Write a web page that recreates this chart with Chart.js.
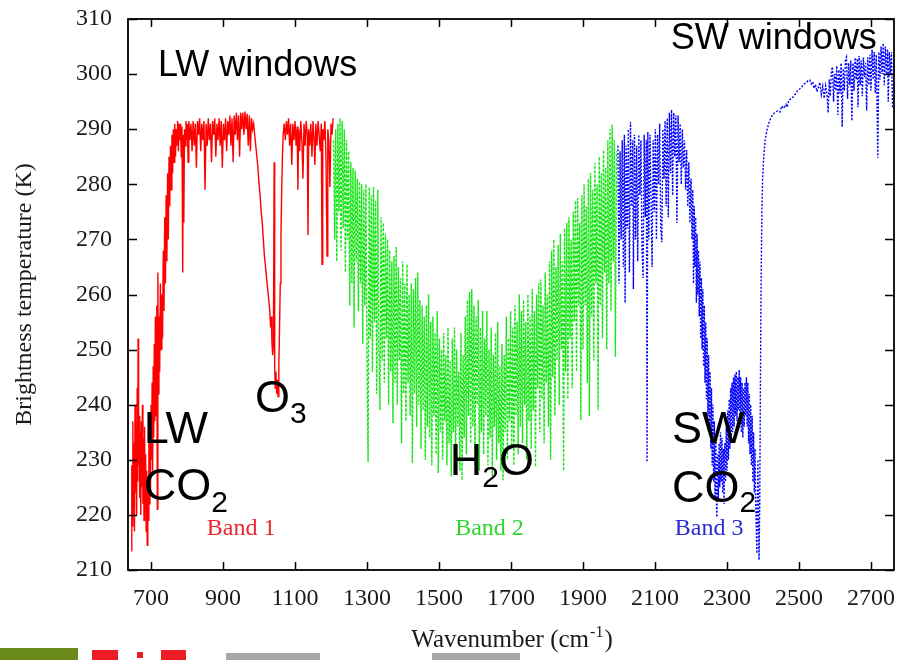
<!DOCTYPE html>
<html><head><meta charset="utf-8">
<script src="https://cdn.jsdelivr.net/npm/chart.js@4.4.0/dist/chart.umd.min.js"></script>
<style>html,body{margin:0;padding:0;background:#fff;}canvas{display:block;}</style>
</head><body>
<canvas id="c" width="902" height="660"></canvas>
<script>
// ---- tick values ----
const xTicks = [700, 900, 1100, 1300, 1500, 1700, 1900, 2100, 2300, 2500, 2700];
const yTicks = [210, 220, 230, 240, 250, 260, 270, 280, 290, 300, 310];

// ---- Band 1 (red): [wavenumber, brightness temperature K] ----
const band1 = [
[645,213.5],[646.5,229],[648,218],[649.5,237],[651,221],[652.5,233],[654,217],[655.5,240],[657,224],[658.5,236],
[660,220],[661.5,243],[663,226],[664,252],[665.5,229],[667,238],[668.5,223],[670,235],[671.5,220],[673,237],
[674.5,225],[676,240],[677.5,222],[679,234],[680.5,219],[682,236],[683.5,221],[685,231],[686.5,217],[688,228],
[689.5,214.5],[691,227],[692.5,219],[694,233],[695.5,222],[697,236],[698.5,224],[700,240],[701.5,230],[703,244],
[704.5,228],[706,247],[707.5,234],[709,251],[710.5,237],[712,256],[714,238],[716,258],[717.5,221],[719,264],
[720.5,242],[722,256],[724,246],[726,262],[728,250],[730,260],[732,252],[734,268],[736,257],[738,274],
[740,262],[742,278],[744,266],[746,282],[748,270],[750,285],[752,276],[754,287],[756,279],[758,289],
[760,282],[762,290],[764,284],[766,291],[768,285],[770,290],[772,287],[774,291.5],[776,286],[778,291],
[780,288],[782,291],[784,285],[786,290.5],[788,264],[789.5,289],[791,273],[793,290],[795,287],[797,291.5],
[799,288],[801,291],[803,284],[805,291.5],[808,288],[811,291],[814,286],[817,291.5],[820,287],[823,291],
[826,283],[829,291.5],[832,289],[835,292],[838,286],[841,291],[844,288],[847,291.5],[850,279],[853,291],
[856,287],[859,292],[862,288],[865,291],[868,284],[871,291.5],[874,289],[877,292],[880,285],[883,291],
[886,288],[889,292],[892,287],[895,291.5],[898,283],[901,291],[904,288],[907,292],[910,286],[913,291.5],
[916,289],[919,292.5],[922,287],[925,292],[928,284],[931,292.5],[934,289],[937,293],[940,288],[943,292.5],
[946,285],[949,293],[952,290],[955,293],[958,289],[961,293.2],[964,290],[967,292.8],[970,287],[973,292.5],
[976,286],[979,292],[982,290],[985,291],[988,289],[991,287],[994,285],[997,283],[1000,280],[1003,278],
[1006,275],[1009,273],[1012,270],[1015,267],[1018,265],[1021,263],[1024,261],[1027,259],[1030,257],[1032,254],
[1034,256],[1036,251],[1038,249],[1040,251],[1042,284],[1043.5,247],[1045,243],[1047,246],[1049,242],[1051,244.5],
[1053,241.5],[1055,247],[1057,254],[1059,262],[1061,271],[1063,279],[1065,285],[1067,289],[1070,291],[1073,288],
[1076,291.5],[1079,289],[1082,292],[1085,287],[1088,291],[1091,283.5],[1094,291],[1097,288],[1100,291.5],[1103,287],
[1106,290.5],[1108,279],[1110,290],[1113,286],[1116,291.5],[1119,288],[1122,281],[1125,291],[1128,287],[1131,291.5],
[1134,289],[1136,270.8],[1138,290],[1141,287],[1144,291],[1147,285],[1150,291.5],[1153,288],[1155,283.5],[1158,291],
[1161,287],[1164,291.5],[1167,289],[1170,286],[1173,291],[1175,265.5],[1177,290],[1180,288],[1183,291.5],[1186,285],
[1189,267],[1191,290],[1194,288],[1197,279.5],[1200,291],[1203,289],[1206,292]
];

// ---- Band 2 (green) ----
const band2 = [
[1207,288],[1210,270],[1213,290],[1216,266],[1219,291],[1222,275],[1225,292],[1228,268],[1231,291.5],[1234,272],
[1237,290],[1240,264],[1243,288],[1246,270],[1249,286],[1252,258],[1255,284],[1258,262],[1261,283],[1264,254],
[1267,282.5],[1270,266],[1273,281],[1276,257],[1279,280.5],[1282,262],[1285,280],[1288,251],[1291,279],[1294,258],
[1297,280],[1300,248],[1303,229.6],[1306,279.5],[1309,252],[1312,278],[1315,246],[1318,279.5],[1321,255],[1324,277],
[1327,242],[1330,279],[1333,250],[1336,239],[1339,274],[1342,248],[1345,273],[1348,244],[1351,271],[1354,252],
[1357,270],[1360,240],[1363,268],[1366,246],[1369,266],[1372,236.7],[1375,267],[1378,244],[1381,268.6],[1384,240],
[1387,265],[1390,248],[1393,263],[1396,233],[1399,266],[1402,242],[1405,262],[1408,237],[1411,265.5],[1414,244],
[1417,260],[1420,238],[1423,262],[1426,229.4],[1429,261],[1432,242],[1435,263],[1438,236],[1441,264],[1444,240],
[1447,259],[1450,232],[1453,258],[1456,239],[1459,256],[1462,230],[1465,258],[1468,236],[1471,260],[1474,234],
[1477,255],[1480,229],[1483,256],[1486,238],[1489,253],[1492,231],[1495,257],[1498,227.6],[1501,252],[1504,235],
[1507,250],[1510,230],[1513,253],[1516,237],[1519,249],[1522,229],[1525,254],[1528,233],[1531,248],[1534,227],
[1537,252],[1540,235],[1543,254],[1546,230],[1549,250],[1552,236],[1555,246],[1558,228],[1561,253],[1564,226.3],
[1567,249],[1570,234],[1573,256],[1576,231],[1579,259],[1582,238],[1585,260.5],[1588,233],[1591,261],[1594,236],
[1597,258],[1600,229],[1603,256],[1606,240],[1609,259],[1612,228],[1615,254],[1618,235],[1621,257],[1624,231],
[1627,252],[1630,238],[1633,257],[1636,229],[1639,250],[1642,234],[1645,254],[1648,227],[1651,249],[1654,236],
[1657,253],[1660,230],[1663,255],[1666,233],[1669,247],[1672,228],[1675,251],[1678,226.3],[1681,249],[1684,235],
[1687,256],[1690,230],[1693,252],[1696,237],[1699,257],[1702,232],[1705,254],[1708,229],[1711,258],[1714,238],
[1717,255],[1720,231],[1723,260],[1726,236],[1729,257],[1732,233],[1735,259],[1738,240],[1741,255],[1744,230],
[1747,260],[1750,237],[1753,256],[1756,232],[1759,261],[1762,239],[1765,257],[1768,228.7],[1771,260],[1774,243],
[1777,262],[1780,235],[1783,262.7],[1786,241],[1789,258],[1792,233],[1795,264],[1798,244],[1801,260],[1804,236],
[1807,266],[1810,230],[1813,268],[1816,245],[1819,270],[1822,238],[1825,265],[1828,248],[1831,269],[1834,240],
[1837,271],[1840,250],[1843,266],[1846,228],[1849,272],[1852,246],[1855,273],[1858,241],[1861,274],[1864,252],
[1867,270],[1870,243],[1873,275],[1876,255],[1879,277],[1882,246],[1885,277.5],[1888,258],[1891,273],[1894,237.2],
[1897,278],[1900,250],[1903,280],[1906,258],[1909,276],[1912,244],[1915,281],[1918,238],[1921,282],[1924,256],
[1927,279],[1930,248],[1933,283.9],[1936,262],[1939,280],[1942,239],[1945,285],[1948,258],[1951,282],[1954,252],
[1957,286.2],[1960,264],[1963,283],[1966,250],[1969,288],[1972,262],[1975,290],[1978,257],[1981,290.8],[1984,266],
[1987,288],[1990,248.7],[1993,286]
];

// ---- Band 3 (blue) ----
const band3 = [
[1997,287],[2000,262],[2003,286],[2006,270],[2009,288],[2012,265],[2015,289],[2017,258.5],[2020,287],[2023,272],
[2026,290],[2029,264],[2032,291.3],[2035,276],[2038,288],[2040,261],[2043,289],[2046,270],[2049,287],[2052,266],
[2055,289],[2058,278],[2061,288],[2064,268],[2067,263],[2070,289],[2073,274],[2076,288],[2078,229.6],[2080,289.5],
[2083,270],[2086,289],[2089,277],[2092,265],[2095,288],[2098,275],[2101,290],[2104,270],[2107,289],[2110,280],
[2113,291],[2116,272],[2119,269.5],[2122,290],[2125,281],[2128,291.5],[2131,276],[2134,292],[2137,274],[2140,293],
[2143,282],[2146,293.5],[2149,278],[2152,293],[2155,285],[2158,292.5],[2161,273],[2164,292.5],[2167,284],[2170,291],
[2173,280],[2176,290],[2179,283],[2182,288],[2185,279],[2188,286.2],[2191,276],[2194,284],[2197,273],[2200,281],
[2203,270],[2205,279],[2207,262],[2209,276],[2211,265],[2213,274],[2215,258.5],[2217,271],[2219,260],[2221,268],
[2223,256],[2225,266],[2227,252],[2229,263],[2231,250],[2233,261],[2235,247],[2237,258],[2239,244],[2241,255],
[2243,241],[2245,252],[2247,238],[2249,249],[2251,235],[2253,246],[2255,232],[2257,243],[2259,229],[2261,240],
[2263,226],[2265,237],[2267,223],[2269,234],[2271,221],[2272,219.6],[2274,231],[2276,223],[2278,233],[2280,225],
[2282,235],[2284,226],[2286,234],[2288,224],[2290,232],[2292,222],[2294,233],[2296,226],[2298,236],[2300,228],
[2302,239],[2304,230],[2306,241],[2308,232],[2310,243],[2312,233],[2314,244],[2316,235],[2318,245],[2320,236],
[2322,245.5],[2324,238],[2326,246],[2328,237],[2330,245],[2332,239],[2334,246.3],[2336,237],[2338,245],[2340,235],
[2342,244],[2344,234],[2346,243],[2348,236],[2350,244],[2352,238],[2354,245],[2356,236],[2358,244],[2360,233],
[2362,242],[2364,231],[2366,240],[2368,229],[2370,238],[2372,226],[2374,235],[2376,224],[2378,232],[2380,221.4],
[2383,213],[2386,230],[2389,211.8],[2391,222],[2393,245],[2395,264],[2397,275],[2399,281],[2402,285],[2406,288],
[2411,289.8],[2418,291.5],[2425,292.4],[2432,293],[2440,293.3],[2447,293.1],[2452,294.2],[2458,293.8],[2464,294.5],[2467,294],
[2472,295.3],[2478,295.5],[2483,295.8],[2490,296.4],[2496,297],[2502,297.3],[2508,297.7],[2514,298.2],[2520,298.4],[2525,298.8],
[2530,298.9],[2534,298.2],[2538,298.6],[2542,297.4],[2546,298.1],[2550,296.8],[2554,297.6],[2558,298.5],[2562,296.3],[2566,297.8],
[2570,295.6],[2574,297.9],[2578,296.2],[2581,293],[2584,299],[2587,296],[2590,300.5],[2593,301.3],[2596,295],[2599,300],
[2602,297],[2605,301.5],[2608,292.6],[2611,300.8],[2614,296.5],[2617,302],[2620,290.4],[2623,301],[2626,297],[2629,302.6],
[2632,303.1],[2635,295.5],[2638,302],[2641,298],[2644,302.5],[2647,291.5],[2650,302],[2653,297],[2656,303],[2659,299],
[2662,302.8],[2664,294],[2667,303.3],[2670,298],[2673,302.5],[2676,296],[2679,303],[2682,299.5],[2685,302],[2688,293.4],
[2691,303],[2694,298],[2697,303.5],[2700,297],[2703,304.4],[2706,299],[2709,304],[2712,296.5],[2715,303.5],[2719,284.8],
[2722,304],[2725,299],[2728,305],[2731,300],[2734,305.6],[2737,298],[2740,305],[2743,300],[2746,304.5],[2748,295],
[2751,304],[2754,300],[2757,304],[2760,294]
];

// ---- text annotations (anchored in data coordinates) ----
const notes = [
  {wn: 719,  k: 299.7, parts: [['LW windows', 36, 0]]},
  {wn: 2144, k: 304.6, parts: [['SW windows', 36, 0]]},
  {wn: 680,  k: 233.0, parts: [['LW', 45, 0]]},
  {wn: 680,  k: 222.7, parts: [['CO', 45, 0], ['2', 30, 12]]},
  {wn: 989,  k: 238.7, parts: [['O', 45, 0], ['3', 30, 11]]},
  {wn: 1530, k: 227.2, parts: [['H', 45, 0], ['2', 30, 12], ['O', 45, 0]]},
  {wn: 2147, k: 233.0, parts: [['SW', 45, 0]]},
  {wn: 2147, k: 222.3, parts: [['CO', 45, 0], ['2', 30, 10]]}
];
const bandLabels = [
  {text: 'Band 1', wn: 855, k: 216.3, color: '#e8262b'},
  {text: 'Band 2', wn: 1545, k: 216.3, color: '#2fd42f'},
  {text: 'Band 3', wn: 2155, k: 216.3, color: '#2a2ad0'}
];

const SERIF = '"Liberation Serif", "Times New Roman", serif';
const SANS = '"Liberation Sans", Arial, sans-serif';

const toXY = arr => arr.map(p => ({x: p[0], y: p[1]}));

const decor = {
  id: 'decor',
  afterDraw(chart) {
    const {ctx, chartArea: a, scales: {x, y}} = chart;
    ctx.save();
    // frame
    ctx.strokeStyle = '#000';
    ctx.lineWidth = 1.8;
    ctx.strokeRect(a.left, a.top, a.right - a.left, a.bottom - a.top);
    // inward ticks on all four sides
    ctx.lineWidth = 1.5;
    ctx.beginPath();
    xTicks.forEach(v => {
      const px = Math.round(x.getPixelForValue(v)) + 0.5;
      ctx.moveTo(px, a.bottom); ctx.lineTo(px, a.bottom - 8);
      ctx.moveTo(px, a.top); ctx.lineTo(px, a.top + 8);
    });
    yTicks.forEach(v => {
      const py = Math.round(y.getPixelForValue(v)) + 0.5;
      ctx.moveTo(a.left, py); ctx.lineTo(a.left + 9, py);
      ctx.moveTo(a.right, py); ctx.lineTo(a.right - 9, py);
    });
    ctx.stroke();

    // axis titles
    ctx.fillStyle = '#1a1a1a';
    ctx.font = '24px ' + SERIF;
    ctx.textBaseline = 'alphabetic';
    ctx.save();
    ctx.translate(31, (a.top + a.bottom) / 2);
    ctx.rotate(-Math.PI / 2);
    ctx.textAlign = 'center';
    ctx.fillText('Brightness temperature (K)', 0, 0);
    ctx.restore();

    const t1 = 'Wavenumber (cm', sup = '-1', t2 = ')';
    ctx.font = '25px ' + SERIF;
    const w1 = ctx.measureText(t1).width, w3 = ctx.measureText(t2).width;
    ctx.font = '16px ' + SERIF;
    const w2 = ctx.measureText(sup).width;
    let sx = (a.left + a.right) / 2 - (w1 + w2 + w3) / 2;
    const by = 647;
    ctx.textAlign = 'left';
    ctx.font = '25px ' + SERIF;
    ctx.fillText(t1, sx, by);
    ctx.font = '16px ' + SERIF;
    ctx.fillText(sup, sx + w1 + 1, by - 10);
    ctx.font = '25px ' + SERIF;
    ctx.fillText(t2, sx + w1 + w2 + 2, by);

    // band labels
    ctx.font = '24px ' + SERIF;
    bandLabels.forEach(b => {
      ctx.fillStyle = b.color;
      ctx.fillText(b.text, x.getPixelForValue(b.wn), y.getPixelForValue(b.k));
    });

    // annotations
    ctx.fillStyle = '#000';
    notes.forEach(n => {
      let px = x.getPixelForValue(n.wn);
      const py = y.getPixelForValue(n.k);
      n.parts.forEach(([txt, size, dy]) => {
        ctx.font = size + 'px ' + SANS;
        ctx.fillText(txt, px, py + dy);
        px += ctx.measureText(txt).width;
      });
    });

    // cropped slide decorations at the bottom edge
    ctx.fillStyle = '#6b8a1c';
    ctx.fillRect(0, 648, 78, 12);
    ctx.fillStyle = '#ee1c25';
    ctx.fillRect(92, 650, 26, 10);
    ctx.fillRect(137, 652, 6, 6);
    ctx.fillRect(161, 650, 25, 10);
    ctx.fillStyle = 'rgba(60,60,60,0.45)';
    ctx.fillRect(226, 653, 94, 7);
    ctx.fillRect(432, 653, 88, 7);
    ctx.restore();
  }
};

new Chart(document.getElementById('c'), {
  type: 'line',
  data: {
    datasets: [
      {data: toXY(band1), borderColor: '#ff0000', borderWidth: 1.4, pointRadius: 0, tension: 0, fill: false},
      {data: toXY(band2), borderColor: '#19e619', borderWidth: 1.4, borderDash: [3, 1.5], pointRadius: 0, tension: 0, fill: false},
      {data: toXY(band3), borderColor: '#0000ff', borderWidth: 1.4, borderDash: [2, 1.6], pointRadius: 0, tension: 0, fill: false}
    ]
  },
  options: {
    responsive: false,
    animation: false,
    events: [],
    layout: {padding: {left: 0, right: 8, top: 19, bottom: 0}},
    plugins: {legend: {display: false}, tooltip: {enabled: false}},
    scales: {
      x: {
        type: 'linear', min: 636, max: 2764,
        grid: {display: false, drawTicks: false},
        border: {display: false},
        afterBuildTicks: s => { s.ticks = xTicks.map(v => ({value: v})); },
        afterFit: s => { s.height = 90; s.paddingLeft = 0; s.paddingRight = 0; },
        ticks: {font: {family: SERIF, size: 24}, color: '#1a1a1a', padding: 14,
                maxRotation: 0, autoSkip: false, callback: v => String(v)}
      },
      y: {
        type: 'linear', min: 210, max: 310,
        grid: {display: false, drawTicks: false},
        border: {display: false},
        afterBuildTicks: s => { s.ticks = yTicks.map(v => ({value: v})); },
        afterFit: s => { s.width = 128; s.paddingTop = 0; s.paddingBottom = 0; },
        ticks: {font: {family: SERIF, size: 24}, color: '#1a1a1a', padding: 16,
                autoSkip: false, callback: v => String(v)}
      }
    }
  },
  plugins: [decor]
});
</script>
</body></html>
